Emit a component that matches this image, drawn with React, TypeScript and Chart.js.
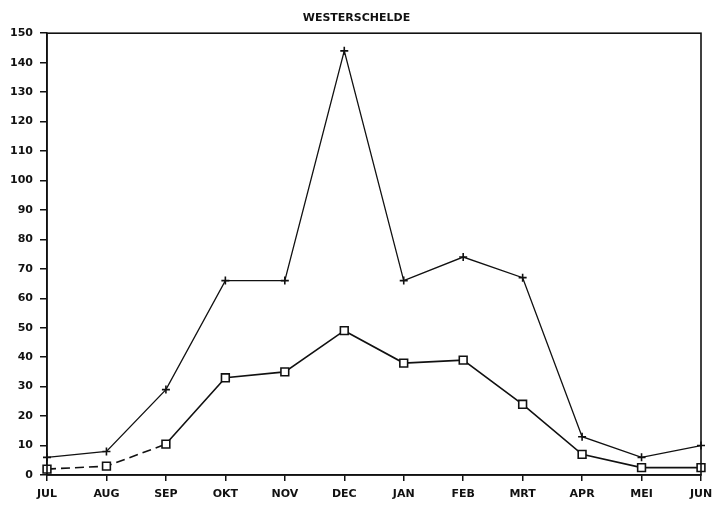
import React, { useEffect, useRef } from "react";
import { Chart, registerables } from "chart.js";

Chart.register(...registerables);

const months = ["JUL", "AUG", "SEP", "OKT", "NOV", "DEC", "JAN", "FEB", "MRT", "APR", "MEI", "JUN"];
const upperSeries = [6, 8, 29, 66, 66, 144, 66, 74, 67, 13, 6, 10];
const lowerSeries = [2, 3, 10.5, 33, 35, 49, 38, 39, 24, 7, 2.5, 2.5];
const chartTitle = "WESTERSCHELDE";

const framePlugin = {
  id: "frame",
  afterDraw(chart: any) {
    const { ctx, chartArea } = chart;
    ctx.save();
    ctx.strokeStyle = "#111";
    ctx.lineWidth = 1.6;
    ctx.strokeRect(chartArea.left, chartArea.top, chartArea.right - chartArea.left, chartArea.bottom - chartArea.top);
    ctx.restore();
  },
};

export default function App() {
  const ref = useRef<HTMLCanvasElement>(null);
  useEffect(() => {
    document.body.style.margin = "0";
    const font = { family: "'DejaVu Sans', sans-serif", size: 11, weight: "bold" as const };
    const chart = new Chart(ref.current!, {
      type: "line",
      data: {
        labels: months,
        datasets: [
          {
            data: upperSeries,
            borderColor: "#111",
            borderWidth: 1.3,
            pointStyle: "cross",
            pointRadius: 4,
            pointBorderWidth: 1.6,
            pointBorderColor: "#111",
            fill: false,
            tension: 0,
          },
          {
            data: lowerSeries,
            borderColor: "#111",
            borderWidth: 1.6,
            pointStyle: "rect",
            pointRadius: 5.5,
            pointBorderWidth: 1.6,
            pointBorderColor: "#111",
            pointBackgroundColor: "#fff",
            fill: false,
            tension: 0,
            segment: {
              borderDash: (c: any) => (c.p0DataIndex < 2 ? [9, 5] : undefined),
            },
          },
        ],
      },
      options: {
        animation: false,
        responsive: false,
        maintainAspectRatio: false,
        layout: { padding: { left: 0, right: 0, top: 0, bottom: 0 } },
        plugins: {
          legend: { display: false },
          tooltip: { enabled: false },
          title: {
            display: true,
            text: chartTitle,
            color: "#111",
            font: { family: "'DejaVu Sans', sans-serif", size: 11, weight: "bold" },
            padding: { top: 12, bottom: 8 },
          },
        },
        scales: {
          x: {
            offset: false,
            grid: { display: true, drawOnChartArea: false, drawTicks: true, tickLength: 6, color: "#111", lineWidth: 1.5 },
            border: { display: true, color: "#111", width: 1.5 },
            ticks: { color: "#111", font, padding: 7, maxRotation: 0, autoSkip: false },
            afterFit: (s: any) => {
              s.height = 33;
              s.paddingRight = 12;
              s.paddingLeft = 0;
            },
          },
          y: {
            min: 0,
            max: 150,
            grid: { display: true, drawOnChartArea: false, drawTicks: true, tickLength: 7, color: "#111", lineWidth: 1.5 },
            border: { display: true, color: "#111", width: 1.5 },
            ticks: { stepSize: 10, color: "#111", font, padding: 7 },
            afterFit: (s: any) => { s.width = 47; },
          },
        },
      },
      plugins: [framePlugin],
    });
    return () => chart.destroy();
  }, []);
  return (
    <div style={{ position: "absolute", left: 0, top: 0, width: 713, height: 508, background: "#fff" }}>
      <canvas ref={ref} width={713} height={508} />
    </div>
  );
}
